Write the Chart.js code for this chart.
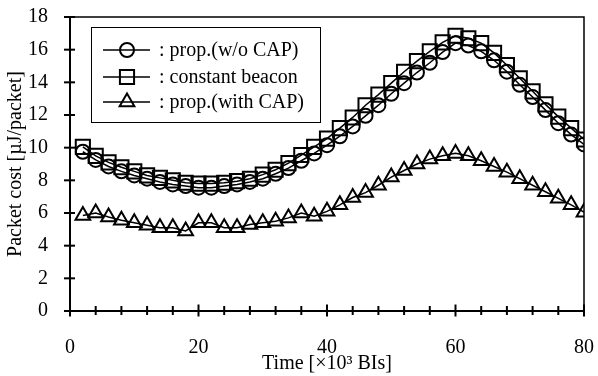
<!DOCTYPE html>
<html lang="en">
<head>
    <meta charset="UTF-8">
    <title>Packet cost</title>
    <script src="https://cdn.jsdelivr.net/npm/chart.js@4.4.0/dist/chart.umd.min.js"></script>
    <style>
        html, body {
            margin: 0;
            padding: 0;
            background: #fff;
            overflow: hidden;
        }
        #wrap {
            width: 598px;
            height: 376px;
        }
    </style>
</head>
<body>
<div id="wrap"><canvas id="chartJSContainer"></canvas></div>

<script>
    const times = [2, 4, 6, 8, 10, 12, 14, 16, 18, 20, 22, 24, 26, 28, 30, 32, 34, 36, 38, 40,
                   42, 44, 46, 48, 50, 52, 54, 56, 58, 60, 62, 64, 66, 68, 70, 72, 74, 76, 78, 80];
    const propNoCap = [9.75, 9.25, 8.85, 8.55, 8.3, 8.1, 7.9, 7.75, 7.65, 7.55,
                       7.55, 7.65, 7.75, 7.9, 8.1, 8.4, 8.75, 9.2, 9.65, 10.15,
                       10.7, 11.3, 11.95, 12.6, 13.3, 13.95, 14.6, 15.2, 15.85, 16.4,
                       16.25, 15.9, 15.35, 14.65, 13.85, 13.1, 12.3, 11.5, 10.8, 10.2];
    const constantBeacon = [10.05, 9.5, 9.1, 8.8, 8.55, 8.3, 8.15, 8.0, 7.85, 7.8,
                            7.8, 7.85, 7.95, 8.1, 8.35, 8.65, 9.05, 9.55, 10.05, 10.55,
                            11.2, 11.85, 12.6, 13.25, 13.95, 14.65, 15.3, 15.9, 16.45, 16.85,
                            16.7, 16.4, 15.8, 15.05, 14.25, 13.45, 12.65, 11.9, 11.2, 10.5];
    const propWithCap = [5.85, 6.0, 5.75, 5.55, 5.4, 5.25, 5.1, 5.1, 4.9, 5.4,
                         5.4, 5.1, 5.1, 5.3, 5.4, 5.5, 5.7, 6.0, 5.8, 6.1,
                         6.5, 6.95, 7.25, 7.7, 8.2, 8.6, 9.0, 9.3, 9.5, 9.65,
                         9.5, 9.2, 8.85, 8.5, 8.1, 7.7, 7.3, 6.9, 6.5, 6.05];
    const seriesNames = [': prop.(w/o CAP)', ': constant beacon', ': prop.(with CAP)'];
    const xTitle = 'Time [\u00D710\u00B3 BIs]';
    const yTitle = 'Packet cost [\u00B5J/packet]';

    const FONT = "'Liberation Serif', 'Times New Roman', serif";

    function toPoints(values) {
        return values.map((v, i) => ({ x: times[i], y: v }));
    }

    function makeDataset(label, values, style, radius) {
        return {
            label: label,
            data: toPoints(values),
            borderColor: '#000',
            borderWidth: 1.5,
            pointStyle: style,
            pointRadius: radius,
            pointBorderWidth: 2,
            pointBorderColor: '#000',
            pointBackgroundColor: 'rgba(0,0,0,0)',
            tension: 0
        };
    }

    // symbol in the legend, same shapes as the markers
    function marker(ctx, style, r, x, y) {
        ctx.beginPath();
        if (style === 'circle') {
            ctx.arc(x, y, r, 0, Math.PI * 2);
        } else if (style === 'rect') {
            const s = r * Math.SQRT1_2;
            ctx.rect(x - s, y - s, 2 * s, 2 * s);
        } else {
            for (let k = 0; k < 3; k++) {
                const a = k * 2 * Math.PI / 3;
                const px = x + Math.sin(a) * r, py = y - Math.cos(a) * r;
                if (k === 0) ctx.moveTo(px, py); else ctx.lineTo(px, py);
            }
            ctx.closePath();
        }
        ctx.stroke();
    }

    const framePlugin = {
        id: 'frame',
        afterDraw(chart) {
            const ctx = chart.ctx;
            const a = chart.chartArea;
            const xs = chart.scales.x, ys = chart.scales.y;
            ctx.save();
            ctx.strokeStyle = '#000';

            // top and right edge of the plot box
            ctx.lineWidth = 1.5;
            ctx.beginPath();
            ctx.moveTo(a.left, a.top);
            ctx.lineTo(a.right, a.top);
            ctx.lineTo(a.right, a.bottom);
            ctx.stroke();

            // tick marks crossing the axes
            ctx.lineWidth = 2;
            for (let v = 0; v <= 80; v += 4) {
                const px = xs.getPixelForValue(v);
                const big = v % 20 === 0 ? 1.5 : 0;
                ctx.beginPath();
                ctx.moveTo(px, a.bottom - 5 - big);
                ctx.lineTo(px, a.bottom + 4 + big);
                ctx.stroke();
            }
            for (let v = 0; v <= 18; v += 2) {
                const py = ys.getPixelForValue(v);
                ctx.beginPath();
                ctx.moveTo(a.left - 6, py);
                ctx.lineTo(a.left + 5, py);
                ctx.stroke();
            }

            // legend box
            const box = { x: 91.5, y: 27.5, w: 229, h: 95 };
            ctx.fillStyle = '#fff';
            ctx.fillRect(box.x, box.y, box.w, box.h);
            ctx.lineWidth = 1;
            ctx.strokeRect(box.x, box.y, box.w, box.h);

            const rows = [50, 77, 102];
            ctx.font = '20px ' + FONT;
            ctx.textBaseline = 'middle';
            ctx.fillStyle = '#000';
            chart.data.datasets.forEach((ds, i) => {
                const y = rows[i];
                ctx.lineWidth = 1.5;
                ctx.beginPath();
                ctx.moveTo(103, y);
                ctx.lineTo(150, y);
                ctx.stroke();
                ctx.lineWidth = 2;
                marker(ctx, ds.pointStyle, ds.pointRadius, 127, y);
                ctx.fillText(seriesNames[i], 159, y + 1);
            });
            ctx.restore();
        }
    };

    const options = {
        type: 'line',
        data: {
            datasets: [
                makeDataset('prop.(w/o CAP)', propNoCap, 'circle', 7),
                makeDataset('constant beacon', constantBeacon, 'rect', 10),
                makeDataset('prop.(with CAP)', propWithCap, 'triangle', 8.5)
            ]
        },
        options: {
            responsive: true,
            maintainAspectRatio: false,
            animation: false,
            layout: {
                padding: { top: 17, right: 14, left: 0, bottom: 0 }
            },
            plugins: {
                legend: { display: false },
                tooltip: { enabled: false }
            },
            scales: {
                x: {
                    type: 'linear',
                    min: 0,
                    max: 80,
                    afterFit(scale) {
                        scale.height = 65;
                        scale.paddingLeft = 0;
                        scale.paddingRight = 0;
                    },
                    ticks: {
                        stepSize: 4,
                        padding: 25,
                        color: '#000',
                        maxRotation: 0,
                        autoSkip: false,
                        font: { size: 20, family: FONT },
                        callback: function(value) {
                            return value % 20 === 0 ? value : '';
                        }
                    },
                    grid: { drawOnChartArea: false, drawTicks: false },
                    border: { color: '#000', width: 2 },
                    title: {
                        display: true,
                        text: xTitle,
                        color: '#000',
                        padding: { top: 0, bottom: 0 },
                        font: { size: 20, family: FONT }
                    }
                },
                y: {
                    min: 0,
                    max: 18,
                    afterFit(scale) {
                        scale.width = 70;
                        scale.paddingTop = 0;
                        scale.paddingBottom = 0;
                    },
                    ticks: {
                        stepSize: 2,
                        padding: 22,
                        color: '#000',
                        font: { size: 20, family: FONT }
                    },
                    grid: { drawOnChartArea: false, drawTicks: false },
                    border: { color: '#000', width: 2 },
                    title: {
                        display: true,
                        text: yTitle,
                        color: '#000',
                        padding: { top: 4, bottom: 0 },
                        font: { size: 20, family: FONT }
                    }
                }
            }
        },
        plugins: [framePlugin]
    };

    const ctx = document.getElementById('chartJSContainer').getContext('2d');
    const chart = new Chart(ctx, options);
</script>
</body>
</html>
